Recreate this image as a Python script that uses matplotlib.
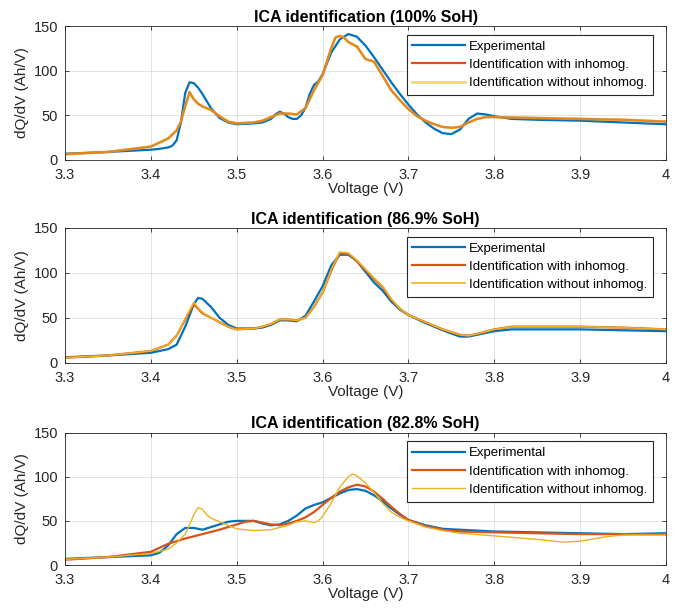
import numpy as np
import matplotlib.pyplot as plt

plt.rcParams['font.family'] = ['Liberation Sans', 'DejaVu Sans']

# ---- 100% SoH ----
v1_exp = [3.30, 3.35, 3.40, 3.41, 3.42, 3.425, 3.43, 3.435, 3.44, 3.445, 3.45, 3.455, 3.46,
          3.47, 3.48, 3.49, 3.50, 3.52, 3.53, 3.54, 3.545, 3.55, 3.555, 3.56, 3.565, 3.57,
          3.575, 3.58, 3.585, 3.59, 3.595, 3.60, 3.61, 3.62, 3.63, 3.64, 3.65, 3.66, 3.67,
          3.68, 3.69, 3.70, 3.71, 3.72, 3.73, 3.74, 3.75, 3.76, 3.77, 3.78, 3.79, 3.80,
          3.82, 3.85, 3.90, 3.95, 4.00]
q1_exp = [7, 9, 11.5, 12.5, 14, 16, 22, 42, 75, 87, 86, 81, 74,
          58, 47, 42, 40, 41, 42, 46, 51, 54, 52, 48, 46, 46,
          50, 58, 74, 84, 88, 96, 120, 135, 141, 138, 128, 115, 101,
          87, 74, 62, 51, 42, 35, 30, 29, 34, 46, 52, 51, 49,
          46, 45, 44, 42, 40]
v1_inh = [3.30, 3.35, 3.40, 3.42, 3.43, 3.435, 3.44, 3.445, 3.45, 3.455, 3.46, 3.47, 3.48,
          3.49, 3.50, 3.52, 3.53, 3.54, 3.55, 3.56, 3.57, 3.58, 3.585, 3.59, 3.60, 3.61,
          3.615, 3.62, 3.625, 3.63, 3.64, 3.65, 3.66, 3.67, 3.68, 3.69, 3.70, 3.71, 3.72,
          3.73, 3.74, 3.75, 3.76, 3.77, 3.78, 3.79, 3.80, 3.85, 3.90, 3.95, 4.00]
q1_inh = [6.5, 9, 15, 24, 33, 43, 60, 76, 68, 63, 60, 56, 49,
          43, 41, 42, 44, 48, 52, 52, 51, 58, 68, 78, 95, 125,
          137, 139, 137, 132, 127, 113, 110, 94, 78, 67, 57, 49, 44,
          40, 37, 36, 37, 42, 46, 48, 48, 47, 46, 45, 43]
v1_hom = v1_inh
q1_hom = [6.5, 9, 15, 24, 33, 43, 60, 75, 68, 63, 60, 56, 49,
          43, 41, 42, 44, 48, 52, 52, 51, 58, 68, 78, 95, 125,
          137, 139, 137, 132, 127, 113, 110, 94, 78, 67, 57, 49, 44,
          40, 37, 36, 37, 42, 46, 48, 48, 47, 46, 45, 43]

# ---- 86.9% SoH ----
v2_exp = [3.30, 3.35, 3.40, 3.42, 3.43, 3.44, 3.45, 3.455, 3.46, 3.47, 3.48, 3.49, 3.50,
          3.52, 3.53, 3.54, 3.55, 3.56, 3.57, 3.58, 3.59, 3.60, 3.61, 3.62, 3.63, 3.64,
          3.65, 3.66, 3.67, 3.68, 3.69, 3.70, 3.72, 3.74, 3.76, 3.77, 3.78, 3.80, 3.82,
          3.85, 3.90, 3.95, 4.00]
q2_exp = [6, 8, 11, 15, 20, 40, 65, 72, 71, 62, 50, 42, 38,
          38, 39, 42, 47, 47, 46, 52, 68, 85, 108, 120, 120, 113,
          101, 89, 80, 68, 59, 53, 44, 36, 29, 29, 31, 35, 37,
          37, 37, 36, 35]
v2_inh = [3.30, 3.35, 3.40, 3.42, 3.43, 3.44, 3.45, 3.455, 3.46, 3.47, 3.48, 3.49, 3.50,
          3.52, 3.53, 3.54, 3.55, 3.56, 3.57, 3.58, 3.59, 3.60, 3.61, 3.62, 3.63, 3.64,
          3.65, 3.66, 3.67, 3.68, 3.69, 3.70, 3.72, 3.74, 3.76, 3.77, 3.78, 3.80, 3.82,
          3.85, 3.90, 3.95, 4.00]
q2_inh = [5.5, 8, 13, 20, 30, 48, 65, 60, 55, 50, 45, 40, 37,
          38, 40, 43, 48, 48, 47, 50, 62, 78, 102, 122, 121, 113,
          103, 93, 84, 70, 60, 53, 45, 37, 31, 30, 32, 37, 40,
          40, 40, 39, 37]
v2_hom = v2_inh
q2_hom = [5.5, 8, 13, 20, 30, 49, 67, 61, 56, 50, 45, 40, 37,
          38, 40, 43, 48, 48, 47, 50, 62, 78, 103, 123, 122, 114,
          104, 94, 85, 71, 60, 53, 45, 37, 31, 30, 32, 37, 40,
          40, 40, 39, 37]

# ---- 82.8% SoH ----
v3_exp = [3.30, 3.35, 3.40, 3.41, 3.42, 3.43, 3.44, 3.45, 3.46, 3.47, 3.48, 3.49, 3.50,
          3.52, 3.53, 3.54, 3.55, 3.56, 3.57, 3.58, 3.59, 3.60, 3.61, 3.62, 3.63, 3.64,
          3.65, 3.66, 3.67, 3.68, 3.69, 3.70, 3.72, 3.74, 3.76, 3.80, 3.85, 3.90, 3.95, 4.00]
q3_exp = [7, 9, 11, 14, 22, 35, 42, 42, 40, 43, 46, 49, 50,
          50, 47, 45, 46, 50, 56, 64, 68, 71, 76, 81, 85, 86,
          84, 79, 72, 64, 57, 51, 45, 41, 40, 38, 37, 36, 35, 36]
v3_inh = [3.30, 3.35, 3.40, 3.42, 3.44, 3.46, 3.48, 3.50, 3.51, 3.52, 3.53, 3.54, 3.55,
          3.56, 3.57, 3.58, 3.59, 3.60, 3.61, 3.62, 3.63, 3.64, 3.65, 3.66, 3.67, 3.68,
          3.69, 3.70, 3.72, 3.74, 3.76, 3.80, 3.85, 3.90, 3.95, 4.00]
q3_inh = [6, 9, 15, 24, 30, 35, 40, 46, 49, 50, 48, 46, 45,
          47, 50, 54, 60, 68, 76, 83, 88, 91, 89, 83, 75, 66,
          58, 51, 44, 40, 38, 37, 36, 35, 35, 35]
v3_hom = [3.30, 3.35, 3.40, 3.42, 3.43, 3.44, 3.445, 3.45, 3.455, 3.46, 3.465, 3.47, 3.48,
          3.49, 3.50, 3.52, 3.54, 3.56, 3.57, 3.58, 3.59, 3.595, 3.60, 3.61, 3.62, 3.63,
          3.635, 3.64, 3.65, 3.66, 3.67, 3.68, 3.69, 3.70, 3.72, 3.74, 3.76, 3.80, 3.85,
          3.88, 3.90, 3.93, 3.95, 4.00]
q3_hom = [6.5, 9, 13, 18, 25, 35, 45, 57, 65, 63, 57, 53, 49,
          45, 41, 39, 40, 45, 49, 50, 48, 50, 55, 70, 88, 100,
          103, 101, 93, 82, 70, 60, 54, 50, 43, 39, 36, 33, 29,
          26, 27, 32, 34, 34]

titles = ['ICA identification (100% SoH)', 'ICA identification (86.9% SoH)',
          'ICA identification (82.8% SoH)']
labels = ['Experimental', 'Identification with inhomog.', 'Identification without inhomog.']
series = [
    [(v1_exp, q1_exp), (v1_inh, q1_inh), (v1_hom, q1_hom)],
    [(v2_exp, q2_exp), (v2_inh, q2_inh), (v2_hom, q2_hom)],
    [(v3_exp, q3_exp), (v3_inh, q3_inh), (v3_hom, q3_hom)],
]
xticks = [3.3, 3.4, 3.5, 3.6, 3.7, 3.8, 3.9, 4.0]
xticklabels = ['3.3', '3.4', '3.5', '3.6', '3.7', '3.8', '3.9', '4']
yticks = [0, 50, 100, 150]

colors = ['#0072BD', '#D95319', '#EDB120']
# yellow line style differs a bit per panel in the original
hom_style = [dict(lw=2.0, alpha=0.55), dict(lw=1.2, alpha=1.0), dict(lw=1.0, alpha=1.0)]

fig = plt.figure(figsize=(6.88, 6.09), dpi=100)
positions = [[0.0945, 0.7373, 0.8735, 0.220],
             [0.0945, 0.4045, 0.8735, 0.2215],
             [0.0945, 0.0722, 0.8735, 0.2175]]
dark = '#262626'

for i in range(3):
    ax = fig.add_axes(positions[i])
    (ve, qe), (vi, qi), (vh, qh) = series[i]
    ax.plot(ve, qe, color=colors[0], lw=1.6, label=labels[0])
    ax.plot(vi, qi, color=colors[1], lw=1.6, label=labels[1])
    ax.plot(vh, qh, color=colors[2], label=labels[2], **hom_style[i])
    ax.set_xlim(3.3, 4.0)
    ax.set_ylim(0, 150)
    ax.set_xticks(xticks, xticklabels)
    ax.set_yticks(yticks)
    ax.grid(True, color='#262626', alpha=0.15, lw=0.6)
    ax.tick_params(direction='in', top=True, right=True, labelsize=10.5,
                   colors=dark, length=3, width=0.6)
    ax.tick_params(axis='x', pad=6)
    ax.tick_params(axis='y', pad=5)
    for s in ax.spines.values():
        s.set_color(dark)
        s.set_linewidth(0.6)
    ax.set_title(titles[i], fontsize=11.5, fontweight='bold', pad=3)
    ax.set_xlabel('Voltage (V)', fontsize=11, color=dark, labelpad=0)
    ax.set_ylabel('dQ/dV (Ah/V)', fontsize=11, color=dark, labelpad=3)
    leg = ax.legend(loc='upper right', bbox_to_anchor=(0.979, 0.935), fontsize=9.5,
                    fancybox=False, framealpha=1, edgecolor=dark, handlelength=4.0,
                    borderpad=0.45, labelspacing=0.45, handletextpad=0.3, borderaxespad=0)
    leg.get_frame().set_linewidth(0.8)

fig.savefig('out.png', dpi=100)
